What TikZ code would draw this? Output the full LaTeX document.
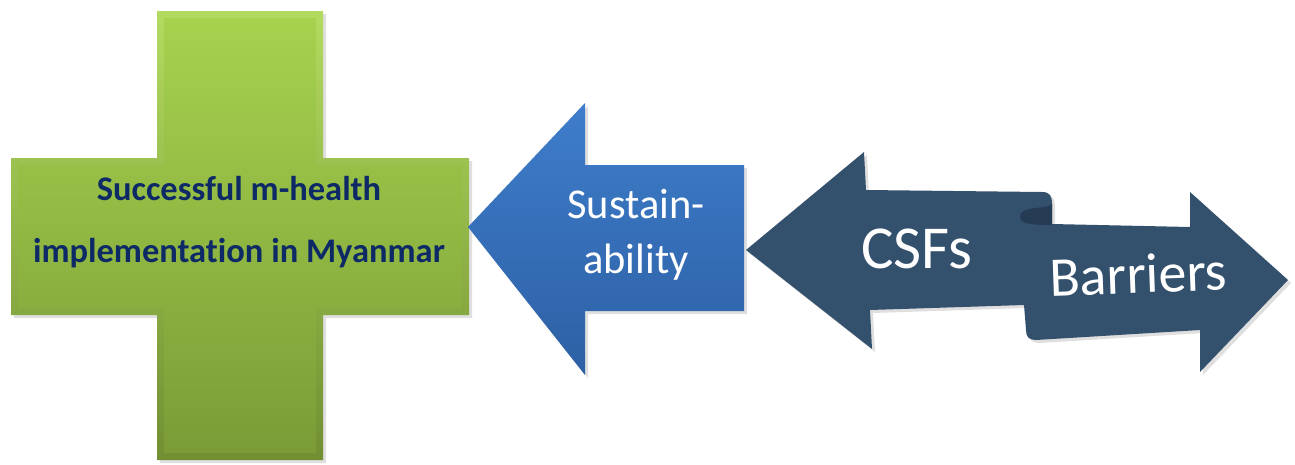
\documentclass[tikz,border=0pt]{standalone}
\usepackage{fontspec}
\setmainfont{Carlito}[RawFeature=-liga]
\usetikzlibrary{shadows}

\definecolor{crossTop}{HTML}{A6D24E}
\definecolor{crossBot}{HTML}{7B9C37}
\definecolor{crossEdgeTop}{HTML}{B3DB60}
\definecolor{crossEdgeBot}{HTML}{718F32}
\definecolor{sustTop}{HTML}{3E7DCB}
\definecolor{sustBot}{HTML}{2D60A4}
\definecolor{ribbon}{HTML}{33506D}
\definecolor{ribbonCurl}{HTML}{263C54}
\definecolor{titleBlue}{HTML}{0E2A66}

\tikzset{
	softshadow/.style={drop shadow={opacity=0.25, shadow xshift=3pt, shadow yshift=-3pt}},
	crossedge/.style={top color=crossEdgeTop, bottom color=crossEdgeBot, softshadow},
	crossface/.style={top color=crossTop, bottom color=crossBot},
	sustface/.style={top color=sustTop, bottom color=sustBot, softshadow},
	ribbonface/.style={fill=ribbon, softshadow},
	titletext/.style={text=titleBlue, font=\fontsize{34.5}{40}\selectfont\bfseries, anchor=base, inner sep=0pt},
	whitetext/.style={text=white, anchor=base, inner sep=0pt}
}

\begin{document}
\begin{tikzpicture}[x=1pt, y=-1pt]
			%%%%% START %%%%%
			\useasboundingbox[fill=white] (0, 0) rectangle (1295, 464);
			
			% the green cross, with a bevelled rim
			\path[crossedge] (157, 11) -- (323, 11) -- (323, 158) -- (469, 158) -- (469, 315) -- (323, 315)
				-- (323, 460) -- (157, 460) -- (157, 315) -- (11, 315) -- (11, 158) -- (157, 158) -- cycle;
			\path[crossface] (164, 18) -- (316, 18) -- (316, 165) -- (462, 165) -- (462, 308) -- (316, 308)
				-- (316, 453) -- (164, 453) -- (164, 308) -- (18, 308) -- (18, 165) -- (164, 165) -- cycle;
			
			\node[titletext] (goal1) at (239, 200) {Successful m-health};
			\node[titletext] (goal2) at (239, 262) {implementation in Myanmar};
			
			% the blue arrow
			\path[sustface] (468, 227) -- (585, 103) -- (585, 165) -- (744, 165) -- (744, 311) -- (585, 311)
				-- (585, 375) -- cycle;
			
			\node[whitetext, font=\fontsize{42.5}{48}\selectfont] (sust1) at (636, 218) {Sustain-};
			\node[whitetext, font=\fontsize{42.5}{48}\selectfont] (sust2) at (636, 273) {ability};
			
			% the two-headed ribbon
			\path[ribbonface] (746, 250) -- (864, 152) -- (866, 190) -- (1042, 192)
				.. controls (1050, 192) and (1052, 196) .. (1052, 204) -- (1052, 224) -- (1190, 227)
				-- (1190, 192) -- (1288, 280) -- (1200, 372) -- (1200, 330) -- (1036, 340)
				.. controls (1029, 340) and (1026, 337) .. (1026, 330) -- (1024, 305) -- (870, 310)
				-- (872, 349) -- cycle;
			\fill[ribbonCurl] (1052, 204) .. controls (1046, 210) and (1020, 205) .. (1020, 217)
				.. controls (1020, 224) and (1032, 225) .. (1052, 225) -- cycle;
			
			\node[whitetext, font=\fontsize{61}{66}\selectfont] (csf) at (917, 268) {CSFs};
			\node[whitetext, font=\fontsize{56}{60}\selectfont, rotate=2] (barrier) at (1139, 293) {Barriers};
			
			%%%%% END %%%%%
\end{tikzpicture}
\end{document}
